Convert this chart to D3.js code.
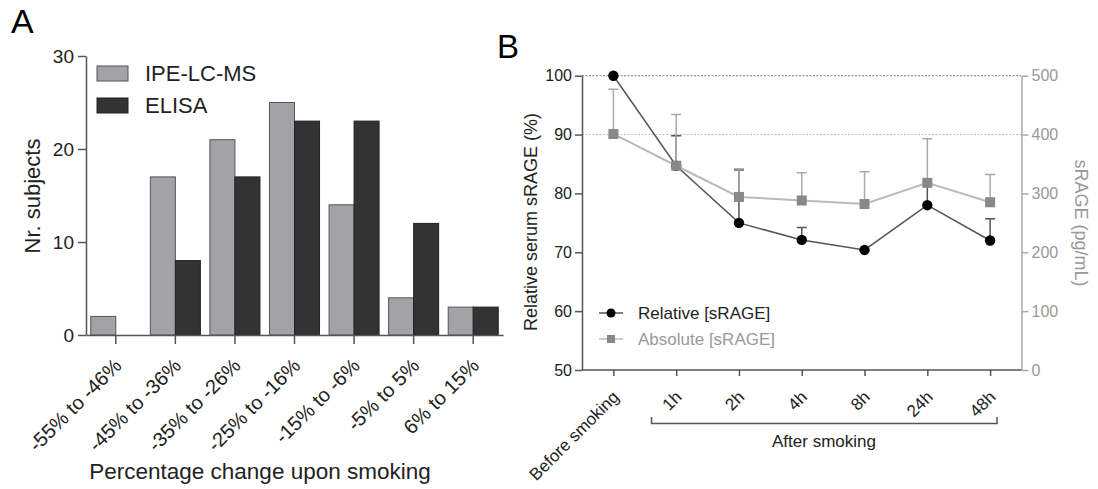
<!DOCTYPE html>
<meta charset="utf-8">
<script src="https://d3js.org/d3.v7.min.js"></script>
<style>
body { margin: 0; background: #fff; }
svg { font-family: "Liberation Sans", Arial, sans-serif; }
.axA path, .axA line { stroke: #555; stroke-width: 1.5px; }
.axB path, .axB line { stroke: #555; stroke-width: 1.5px; }
.axR path, .axR line { stroke: #aaa; stroke-width: 1.5px; }
</style>
<body>
</body>
<script>
// panel A: histogram of change
var bins = ["-55% to -46%", "-45% to -36%", "-35% to -26%", "-25% to -16%", "-15% to -6%", "-5% to 5%", "6% to 15%"];
var methods = ["IPE-LC-MS", "ELISA"];
var ipe = [2, 17, 21, 25, 14, 4, 3];
var elisa = [0, 8, 17, 23, 23, 12, 3];
var countTicks = [0, 10, 20, 30];

// panel B: time course
var times = ["Before smoking", "1h", "2h", "4h", "8h", "24h", "48h"];
var relMean = [100, 84.7, 75.0, 72.1, 70.4, 78.0, 72.0];
var relUpper = [100, 89.8, 84.0, 74.2, 70.4, 81.5, 75.7];
var absMean = [401, 347, 294, 288, 282, 318, 285];
var absUpper = [477, 434, 342, 335, 337, 393, 332];
var relTicks = [50, 60, 70, 80, 90, 100];
var absTicks = [0, 100, 200, 300, 400, 500];

var svg = d3.select("body").append("svg")
    .attr("width", 1098)
    .attr("height", 489);

// ---------- A ----------
var x0 = d3.scaleBand().domain(bins).range([86, 503]).paddingInner(0.16).paddingOuter(0.08);
var x1 = d3.scaleBand().domain(methods).range([0, x0.bandwidth()]);
var yA = d3.scaleLinear().domain([0, 30]).range([335, 56]);
var colA = {"IPE-LC-MS": "#a3a3a7", "ELISA": "#333333"};

svg.append("text").text("A")
    .attr("x", 11).attr("y", 33)
    .attr("font-size", "34px");

var rows = bins.map(function(b, i) { return {bin: b, vals: [ipe[i], elisa[i]]}; });

var grp = svg.selectAll(".grp").data(rows)
  .enter().append("g")
    .attr("class", "grp")
    .attr("transform", function(d) { return "translate(" + x0(d.bin) + ",0)"; });

grp.selectAll("rect")
  .data(function(d) { return d.vals.map(function(v, j) { return {m: methods[j], v: v}; }); })
  .enter().filter(function(d) { return d.v > 0; }).append("rect")
    .attr("x", function(d) { return x1(d.m); })
    .attr("y", function(d) { return yA(d.v); })
    .attr("width", x1.bandwidth())
    .attr("height", function(d) { return yA(0) - yA(d.v); })
    .attr("fill", function(d) { return colA[d.m]; })
    .attr("stroke", function(d) { return d.m == "ELISA" ? "#222" : "#555"; })
    .attr("stroke-width", 1);

var axAy = svg.append("g").attr("class", "axA")
    .attr("transform", "translate(86,0)")
    .call(d3.axisLeft(yA).tickValues(countTicks).tickSize(8).tickPadding(4).tickSizeOuter(0));
axAy.selectAll("text").attr("font-size", "19px").attr("fill", "#222");

var axAx = svg.append("g").attr("class", "axA")
    .attr("transform", "translate(0,335)")
    .call(d3.axisBottom(x0).tickSize(9).tickSizeOuter(0));
axAx.selectAll("text")
    .attr("font-size", "20px").attr("fill", "#222")
    .attr("text-anchor", "end")
    .attr("dy", null).attr("y", null)
    .attr("transform", "translate(7,32) rotate(-45)");

svg.append("text").text("Nr. subjects")
    .attr("transform", "translate(40,196) rotate(-90)")
    .attr("text-anchor", "middle")
    .attr("font-size", "22px").attr("fill", "#222");

svg.append("text").text("Percentage change upon smoking")
    .attr("x", 260).attr("y", 479)
    .attr("text-anchor", "middle")
    .attr("font-size", "22.5px").attr("fill", "#222");

var legA = svg.selectAll(".legA").data(methods)
  .enter().append("g")
    .attr("class", "legA")
    .attr("transform", function(d, i) { return "translate(97," + (66 + i * 32) + ")"; });
legA.append("rect")
    .attr("width", 31).attr("height", 15)
    .attr("fill", function(d) { return colA[d]; })
    .attr("stroke", function(d) { return d == "ELISA" ? "#222" : "#555"; });
legA.append("text").text(function(d) { return d; })
    .attr("x", 48).attr("y", 15)
    .attr("font-size", "22px").attr("fill", "#222");

// ---------- B ----------
var xB = d3.scalePoint().domain(times).range([582, 1021.5]).padding(0.5);
var yL = d3.scaleLinear().domain([50, 100]).range([370, 75.7]);
var yR = d3.scaleLinear().domain([0, 500]).range([370, 75.7]);

svg.append("text").text("B")
    .attr("x", 497).attr("y", 58)
    .attr("font-size", "33px");

// dotted reference lines
svg.append("line")
    .attr("x1", 582).attr("x2", 1021).attr("y1", yL(100)).attr("y2", yL(100))
    .attr("stroke", "#777").attr("stroke-dasharray", "2,1.5").attr("stroke-width", 1);
svg.append("line")
    .attr("x1", 582).attr("x2", 1021).attr("y1", yL(90)).attr("y2", yL(90))
    .attr("stroke", "#bbb").attr("stroke-dasharray", "2,1.5").attr("stroke-width", 1);

var axBl = svg.append("g").attr("class", "axB")
    .attr("transform", "translate(582,0)")
    .call(d3.axisLeft(yL).tickValues(relTicks).tickSize(7).tickPadding(3).tickSizeOuter(0));
axBl.selectAll("text").attr("font-size", "16px").attr("fill", "#222");

var axBr = svg.append("g").attr("class", "axR")
    .attr("transform", "translate(1021.5,0)")
    .call(d3.axisRight(yR).tickValues(absTicks).tickSize(7).tickPadding(3).tickSizeOuter(0));
axBr.selectAll("text").attr("font-size", "16px").attr("fill", "#999");

var axBx = svg.append("g").attr("class", "axB")
    .attr("transform", "translate(0,370)")
    .call(d3.axisBottom(xB).tickSize(6).tickSizeOuter(0));
axBx.select(".domain").attr("d", "M582,0H1021.5");
axBx.selectAll("text")
    .attr("font-size", "17px").attr("fill", "#222")
    .attr("text-anchor", "end")
    .attr("dy", null).attr("y", null)
    .attr("transform", "translate(6,28) rotate(-45)");

svg.append("text").text("Relative serum sRAGE (%)")
    .attr("transform", "translate(537,222) rotate(-90)")
    .attr("text-anchor", "middle")
    .attr("font-size", "18px").attr("fill", "#222");

svg.append("text").text("sRAGE (pg/mL)")
    .attr("transform", "translate(1075,223) rotate(90)")
    .attr("text-anchor", "middle")
    .attr("font-size", "18px").attr("fill", "#999");

// bracket under the after-smoking ticks
svg.append("path")
    .attr("d", "M651.5,417V423.5H997V417")
    .attr("fill", "none").attr("stroke", "#555").attr("stroke-width", 1.5);
svg.append("text").text("After smoking")
    .attr("x", 824).attr("y", 447)
    .attr("text-anchor", "middle")
    .attr("font-size", "17px").attr("fill", "#222");

// relative series
svg.selectAll(".relErr").data(times)
  .enter().filter(function(d, i) { return relUpper[i] > relMean[i]; }).append("path")
    .attr("class", "relErr")
    .attr("d", function(d) {
      var i = times.indexOf(d), cx = xB(d);
      return "M" + cx + "," + yL(relMean[i]) + "V" + yL(relUpper[i]) + "M" + (cx - 5) + "," + yL(relUpper[i]) + "H" + (cx + 5);
    })
    .attr("fill", "none").attr("stroke", "#555").attr("stroke-width", 1.5);

svg.append("path")
    .datum(relMean)
    .attr("d", d3.line().x(function(d, i) { return xB(times[i]); }).y(function(d) { return yL(d); }))
    .attr("fill", "none").attr("stroke", "#555").attr("stroke-width", 1.5);

svg.selectAll(".relPt").data(relMean)
  .enter().append("circle")
    .attr("class", "relPt")
    .attr("cx", function(d, i) { return xB(times[i]); })
    .attr("cy", function(d) { return yL(d); })
    .attr("r", 5.2)
    .attr("fill", "#000");

// absolute series
svg.selectAll(".absErr").data(times)
  .enter().append("path")
    .attr("class", "absErr")
    .attr("d", function(d, i) {
      var cx = xB(d);
      return "M" + cx + "," + yR(absMean[i]) + "V" + yR(absUpper[i]) + "M" + (cx - 5) + "," + yR(absUpper[i]) + "H" + (cx + 5);
    })
    .attr("fill", "none").attr("stroke", "#aaa").attr("stroke-width", 1.5);

svg.append("path")
    .datum(absMean)
    .attr("d", d3.line().x(function(d, i) { return xB(times[i]); }).y(function(d) { return yR(d); }))
    .attr("fill", "none").attr("stroke", "#bbb").attr("stroke-width", 2);

svg.selectAll(".absPt").data(absMean)
  .enter().append("rect")
    .attr("class", "absPt")
    .attr("x", function(d, i) { return xB(times[i]) - 5; })
    .attr("y", function(d) { return yR(d) - 5; })
    .attr("width", 10).attr("height", 10)
    .attr("fill", "#888");

// legend B
var legB = [
  {label: "Relative [sRAGE]", line: "#555", mark: "#000", text: "#222", shape: "circle"},
  {label: "Absolute [sRAGE]", line: "#bbb", mark: "#888", text: "#999", shape: "square"}
];
var lg = svg.selectAll(".legB").data(legB)
  .enter().append("g")
    .attr("class", "legB")
    .attr("transform", function(d, i) { return "translate(599," + (313 + i * 26) + ")"; });
lg.append("line")
    .attr("x1", 0).attr("x2", 24)
    .attr("stroke", function(d) { return d.line; }).attr("stroke-width", 1.5);
lg.filter(function(d) { return d.shape == "circle"; }).append("circle")
    .attr("cx", 12).attr("r", 4.5).attr("fill", function(d) { return d.mark; });
lg.filter(function(d) { return d.shape == "square"; }).append("rect")
    .attr("x", 8).attr("y", -4).attr("width", 8).attr("height", 8)
    .attr("fill", function(d) { return d.mark; });
lg.append("text").text(function(d) { return d.label; })
    .attr("x", 39).attr("y", 6)
    .attr("font-size", "17px")
    .attr("fill", function(d) { return d.text; });
</script>
